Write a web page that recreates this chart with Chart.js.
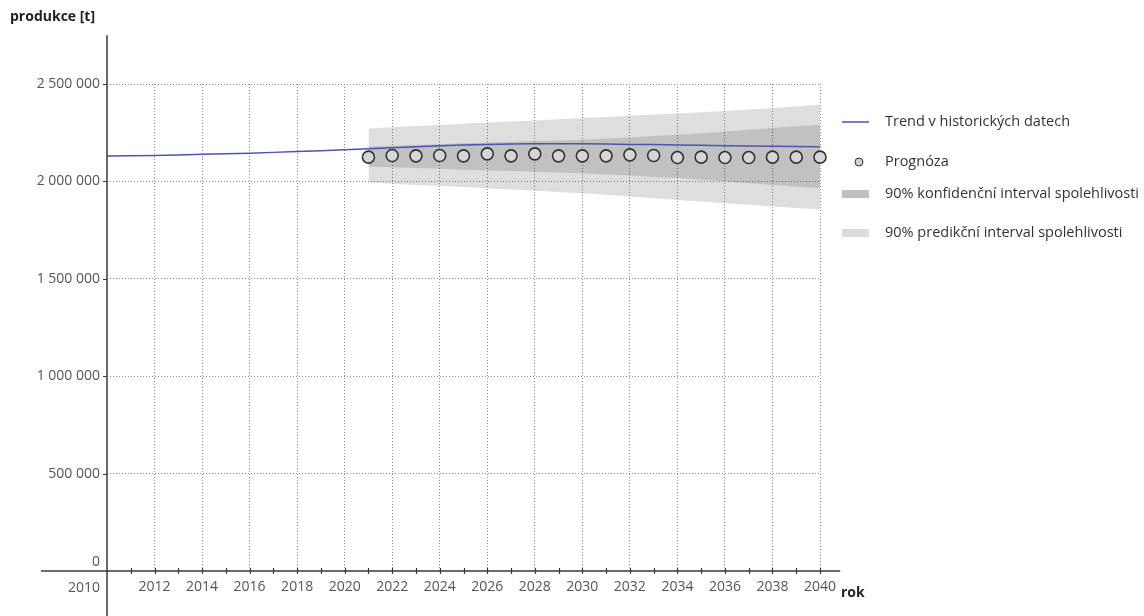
<!DOCTYPE html>
<html>
<head>
<meta charset="utf-8">
<script src="https://cdn.jsdelivr.net/npm/chart.js@4.4.1/dist/chart.umd.min.js"></script>
<style>
  html, body { margin: 0; padding: 0; background: #fff; }
  canvas { display: block; }
</style>
</head>
<body>
<canvas id="chart" width="1144" height="616"></canvas>
<script>
// trend over the whole period
const trendYears = [2010, 2011, 2012, 2013, 2014, 2015, 2016, 2017, 2018, 2019, 2020,
  2021, 2022, 2023, 2024, 2025, 2026, 2027, 2028, 2029, 2030,
  2031, 2032, 2033, 2034, 2035, 2036, 2037, 2038, 2039, 2040];
const trendValues = [2131000, 2132000, 2133000, 2136000, 2139000, 2142000, 2145000, 2149000, 2153000, 2157000, 2162000,
  2168000, 2173000, 2178000, 2183000, 2187000, 2190000, 2192000, 2193000, 2193000, 2193000,
  2192000, 2190000, 2189000, 2187000, 2185000, 2183000, 2182000, 2180000, 2179000, 2178000];

// forecast part
const forecastYears = [2021, 2022, 2023, 2024, 2025, 2026, 2027, 2028, 2029, 2030,
  2031, 2032, 2033, 2034, 2035, 2036, 2037, 2038, 2039, 2040];
const forecastValues = [2124500, 2132700, 2131100, 2132700, 2131100, 2141400, 2131100, 2141400, 2131100, 2131100,
  2131100, 2136300, 2132700, 2122400, 2124500, 2122400, 2122400, 2124500, 2124500, 2124500];
const confLower = [2077000, 2073000, 2069000, 2065000, 2060000, 2056000, 2053000, 2049000, 2046000, 2042000,
  2036000, 2030000, 2023000, 2017000, 2009000, 2000000, 1991000, 1982000, 1973000, 1965000];
const confUpper = [2179000, 2183000, 2187000, 2191000, 2196000, 2200000, 2203000, 2207000, 2210000, 2214000,
  2220000, 2226000, 2233000, 2239000, 2247000, 2256000, 2265000, 2274000, 2283000, 2291000];
const predLower = [1994000, 1988000, 1982000, 1976000, 1971000, 1965000, 1958000, 1952000, 1945000, 1939000,
  1931000, 1922000, 1914000, 1905000, 1897000, 1888000, 1880000, 1871000, 1864000, 1857000];
const predUpper = [2272000, 2278000, 2284000, 2290000, 2296000, 2302000, 2308000, 2313000, 2319000, 2325000,
  2331000, 2337000, 2343000, 2349000, 2355000, 2362000, 2369000, 2376000, 2384000, 2395000];

const yTicks = [0, 500000, 1000000, 1500000, 2000000, 2500000];

const legendLabels = [
  'Trend v historických datech',
  'Prognóza',
  '90% konfidenční interval spolehlivosti',
  '90% predikční interval spolehlivosti'
];

const TREND_COLOR = '#4a55ad';
const FONT = '"Open Sans", "DejaVu Sans", sans-serif';

const toPoints = (xs, ys) => xs.map((x, i) => ({ x: x, y: ys[i] }));
const fmt = v => String(v).replace(/\B(?=(\d{3})+(?!\d))/g, ' ');

// axes, ticks, titles and legend
const decorPlugin = {
  id: 'decor',
  afterDraw(chart) {
    const ctx = chart.ctx;
    const xs = chart.scales.x;
    const ys = chart.scales.y;
    const x0 = xs.getPixelForValue(2010);
    const y0 = ys.getPixelForValue(0);

    ctx.save();
    ctx.strokeStyle = '#3a3a3a';
    ctx.lineWidth = 1.5;
    ctx.beginPath();
    ctx.moveTo(x0, ys.getPixelForValue(2750000));
    ctx.lineTo(x0, 616);
    ctx.moveTo(41, y0);
    ctx.lineTo(xs.getPixelForValue(2040.85), y0);
    ctx.stroke();

    ctx.lineWidth = 1.2;
    ctx.beginPath();
    trendYears.forEach(yr => {
      if (yr === 2010) return;
      const px = Math.round(xs.getPixelForValue(yr)) + 0.5;
      ctx.moveTo(px, y0 - 3);
      ctx.lineTo(px, y0 + 3);
    });
    yTicks.forEach(v => {
      if (v === 0) return;
      const py = Math.round(ys.getPixelForValue(v)) + 0.5;
      ctx.moveTo(x0 - 4, py);
      ctx.lineTo(x0, py);
    });
    ctx.stroke();

    ctx.fillStyle = '#555';
    ctx.font = '14px ' + FONT;
    ctx.textAlign = 'right';
    ctx.textBaseline = 'middle';
    ctx.fillText('2010', x0 - 7, y0 + 17);
    ctx.fillText('0', x0 - 7, y0 - 9);

    ctx.fillStyle = '#222';
    ctx.font = 'bold 14px ' + FONT;
    ctx.textAlign = 'left';
    ctx.fillText('produkce [t]', 10, 17);
    ctx.fillText('rok', 841, y0 + 22);

    // legend
    const lx = 842, tx = 885;
    const rows = [122, 162, 194, 233];
    ctx.strokeStyle = TREND_COLOR;
    ctx.lineWidth = 1.5;
    ctx.beginPath();
    ctx.moveTo(lx, rows[0]);
    ctx.lineTo(lx + 27, rows[0]);
    ctx.stroke();

    ctx.beginPath();
    ctx.arc(859, rows[1], 4, 0, Math.PI * 2);
    ctx.fillStyle = '#cfcfcf';
    ctx.fill();
    ctx.strokeStyle = '#333';
    ctx.lineWidth = 1;
    ctx.stroke();

    ctx.fillStyle = '#c0c0c0';
    ctx.fillRect(lx, rows[2] - 4, 27, 8);
    ctx.fillStyle = '#dcdcdc';
    ctx.fillRect(lx, rows[3] - 4, 27, 8);

    ctx.fillStyle = '#333';
    ctx.font = '14.5px ' + FONT;
    ctx.textBaseline = 'middle';
    legendLabels.forEach((t, i) => ctx.fillText(t, tx, rows[i]));
    ctx.restore();
  }
};

new Chart(document.getElementById('chart'), {
  type: 'line',
  data: {
    datasets: [
      {
        label: 'predLower',
        data: toPoints(forecastYears, predLower),
        borderWidth: 0,
        borderColor: 'rgba(0,0,0,0)',
        pointRadius: 0,
        fill: false,
        order: 3
      },
      {
        label: legendLabels[3],
        data: toPoints(forecastYears, predUpper),
        borderWidth: 0,
        borderColor: 'rgba(0,0,0,0)',
        backgroundColor: 'rgba(0,0,0,0.13)',
        pointRadius: 0,
        fill: '-1',
        order: 3
      },
      {
        label: 'confLower',
        data: toPoints(forecastYears, confLower),
        borderWidth: 0,
        borderColor: 'rgba(0,0,0,0)',
        pointRadius: 0,
        fill: false,
        order: 2
      },
      {
        label: legendLabels[2],
        data: toPoints(forecastYears, confUpper),
        borderWidth: 0,
        borderColor: 'rgba(0,0,0,0)',
        backgroundColor: 'rgba(0,0,0,0.135)',
        pointRadius: 0,
        fill: '-1',
        order: 2
      },
      {
        label: legendLabels[0],
        data: toPoints(trendYears, trendValues),
        borderColor: TREND_COLOR,
        borderWidth: 1.5,
        pointRadius: 0,
        fill: false,
        order: 1
      },
      {
        label: legendLabels[1],
        data: toPoints(forecastYears, forecastValues),
        showLine: false,
        pointRadius: 6,
        pointBackgroundColor: '#d6d6d6',
        pointBorderColor: '#333',
        pointBorderWidth: 1.6,
        clip: false,
        order: 0
      }
    ]
  },
  options: {
    responsive: false,
    animation: false,
    events: [],
    layout: { padding: { top: 84, right: 324, left: 0, bottom: 0 } },
    plugins: {
      legend: { display: false },
      tooltip: { enabled: false }
    },
    scales: {
      x: {
        type: 'linear',
        min: 2010,
        max: 2040,
        afterFit: scale => { scale.height = 45; },
        ticks: {
          stepSize: 1,
          autoSkip: false,
          maxRotation: 0,
          padding: 8,
          color: '#555',
          font: { family: FONT, size: 14 },
          callback: v => (v % 2 === 0 && v !== 2010) ? String(v) : ''
        },
        grid: {
          drawTicks: false,
          lineWidth: 1,
          color: ctx => {
            const v = ctx.tick && ctx.tick.value;
            return (v % 2 === 0 && v !== 2010) ? '#8e8e8e' : 'rgba(0,0,0,0)';
          }
        },
        border: { display: false, dash: [1, 2] }
      },
      y: {
        min: 0,
        max: 2500000,
        afterFit: scale => { scale.width = 107; },
        afterBuildTicks: scale => { scale.ticks = yTicks.map(v => ({ value: v })); },
        ticks: {
          padding: 7,
          color: '#555',
          font: { family: FONT, size: 14 },
          callback: v => v === 0 ? '' : fmt(v)
        },
        grid: {
          drawTicks: false,
          lineWidth: 1,
          color: ctx => (ctx.tick && ctx.tick.value === 0) ? 'rgba(0,0,0,0)' : '#8e8e8e'
        },
        border: { display: false, dash: [1, 2] }
      }
    }
  },
  plugins: [decorPlugin]
});
</script>
</body>
</html>
